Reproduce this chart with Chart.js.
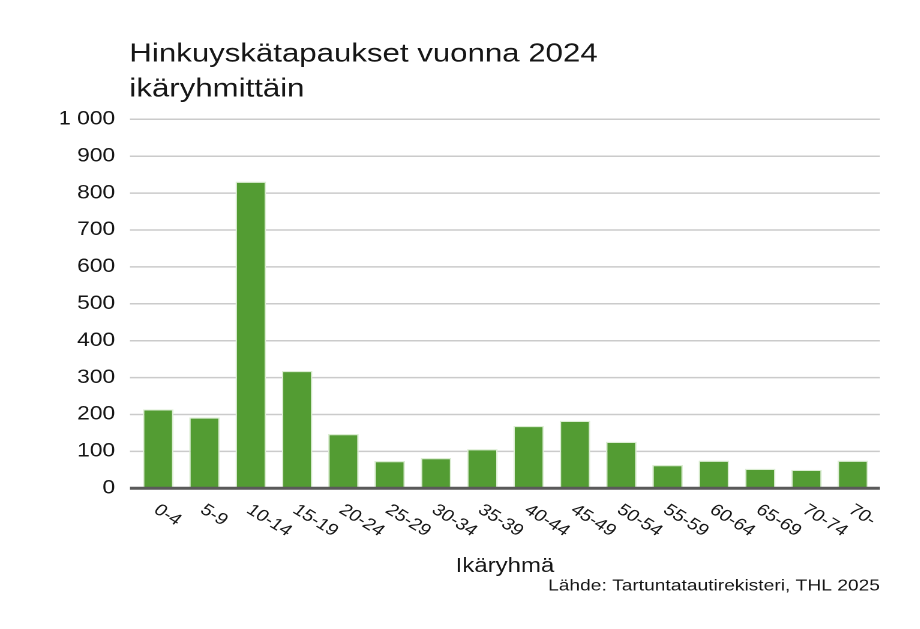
<!DOCTYPE html>
<html>
<head>
<meta charset="utf-8">
<script src="https://cdn.jsdelivr.net/npm/chart.js@4"></script>
<style>
  html, body { margin: 0; padding: 0; background: #ffffff; overflow: hidden; }
  #wrap { width: 767px; height: 629px; transform: scaleX(1.2); transform-origin: 0 0; }
  canvas { display: block; }
</style>
</head>
<body>
<div id="wrap"><canvas id="c" width="767" height="629"></canvas></div>
<script>
const titleLines = ['Hinkuyskätapaukset vuonna 2024', 'ikäryhmittäin'];
const xAxisTitle = 'Ikäryhmä';
const sourceText = 'Lähde: Tartuntatautirekisteri, THL 2025';
const categories = ['0-4','5-9','10-14','15-19','20-24','25-29','30-34','35-39','40-44','45-49','50-54','55-59','60-64','65-69','70-74','70-'];
const cases = [214, 192, 831, 318, 147, 74, 82, 106, 169, 183, 126, 63, 75, 53, 50, 75];
const yTickValues = [0, 100, 200, 300, 400, 500, 600, 700, 800, 900, 1000];

const FONT = '"Liberation Sans", Arial, Helvetica, sans-serif';
const TEXT = '#161616';
const GRID_LEFT = 108.3, GRID_RIGHT = 733.3;

function fmt(v) {
  return String(v).replace(/\B(?=(\d{3})+(?!\d))/g, ' ');
}

const gridPlugin = {
  id: 'extgrid',
  beforeDatasetsDraw(chart) {
    const ctx = chart.ctx, ys = chart.scales.y;
    ctx.save();
    ctx.strokeStyle = '#cbcbcb';
    ctx.lineWidth = 1.5;
    yTickValues.forEach(v => {
      if (v === 0) return;
      const y = ys.getPixelForValue(v);
      ctx.beginPath();
      ctx.moveTo(GRID_LEFT, y);
      ctx.lineTo(GRID_RIGHT, y);
      ctx.stroke();
    });
    ctx.restore();
  },
  afterDatasetsDraw(chart) {
    const ctx = chart.ctx, ys = chart.scales.y;
    const y = ys.getPixelForValue(0);
    ctx.save();
    ctx.strokeStyle = '#5a5a5a';
    ctx.lineWidth = 3;
    ctx.beginPath();
    ctx.moveTo(GRID_LEFT, y);
    ctx.lineTo(GRID_RIGHT, y);
    ctx.stroke();
    ctx.restore();
  }
};

const textPlugin = {
  id: 'texts',
  afterDraw(chart) {
    const ctx = chart.ctx;
    const xs = chart.scales.x;
    ctx.save();
    ctx.fillStyle = TEXT;
    ctx.font = '26px ' + FONT;
    ctx.textAlign = 'left';
    ctx.textBaseline = 'alphabetic';
    ctx.fillText(titleLines[0], 107.8, 61.7);
    ctx.fillText(titleLines[1], 107.8, 96.7);
    ctx.font = '16.5px ' + FONT;
    categories.forEach((lab, i) => {
      const x = xs.getPixelForValue(i);
      ctx.save();
      ctx.translate(x + 3, 501.5);
      ctx.rotate(0.628);
      ctx.textAlign = 'left';
      ctx.textBaseline = 'top';
      ctx.fillText(lab, 0, 0);
      ctx.restore();
    });
    ctx.font = '20px ' + FONT;
    ctx.textAlign = 'center';
    ctx.textBaseline = 'alphabetic';
    ctx.fillText(xAxisTitle, (GRID_LEFT + GRID_RIGHT) / 2, 572);
    ctx.font = '16px ' + FONT;
    ctx.textAlign = 'right';
    ctx.fillText(sourceText, 733.3, 590.7);
    ctx.restore();
  }
};

new Chart(document.getElementById('c'), {
  type: 'bar',
  data: {
    labels: categories,
    datasets: [{
      data: cases,
      backgroundColor: '#539c33',
      borderColor: '#dcedd3',
      borderWidth: 1.2,
      barPercentage: 0.66,
      categoryPercentage: 1.0
    }]
  },
  options: {
    responsive: false,
    animation: false,
    devicePixelRatio: 2,
    layout: { padding: { left: 50.5, right: 37, top: 119.3, bottom: 140.7 } },
    plugins: {
      legend: { display: false },
      title: { display: false },
      tooltip: { enabled: false }
    },
    scales: {
      x: {
        grid: { display: false, drawTicks: false },
        ticks: { display: false },
        border: { display: false },
        afterFit(s) { s.height = 0; }
      },
      y: {
        min: 0,
        max: 1000,
        afterBuildTicks(s) { s.ticks = yTickValues.map(v => ({ value: v })); },
        grid: { display: false, drawTicks: false },
        border: { display: false },
        ticks: {
          padding: 16.5,
          color: TEXT,
          font: { family: FONT, size: 19 },
          callback: (v) => fmt(v)
        },
        afterFit(s) { s.width = 62; }
      }
    }
  },
  plugins: [gridPlugin, textPlugin]
});
</script>
</body>
</html>
